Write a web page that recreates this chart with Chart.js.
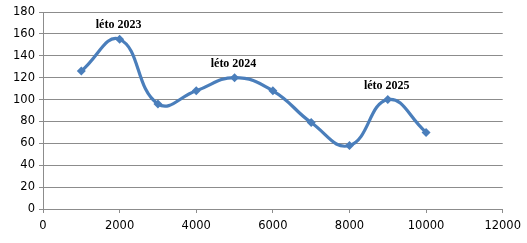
<!DOCTYPE html>
<html><head><meta charset="utf-8">
<script src="https://cdn.jsdelivr.net/npm/chart.js@4/dist/chart.umd.min.js"></script>
<style>html,body{margin:0;padding:0;background:#fff}#wrap{width:527px;height:243px}</style>
</head><body><div id="wrap"><canvas id="c" width="527" height="243"></canvas></div>
<script>
const xValues = [1000, 2000, 3000, 4000, 5000, 6000, 7000, 8000, 9000, 10000];
const yValues = [126, 155, 96, 108, 120, 108, 79, 58, 100, 70];
const annotationLabels = ["léto 2023", "léto 2024", "léto 2025"];
const annotationIndex = [1, 4, 8];

const annotate = {
  id: 'annotate',
  afterDatasetsDraw(chart) {
    const ctx = chart.ctx, xs = chart.scales.x, ys = chart.scales.y;
    ctx.save();
    ctx.font = 'bold 12px "Liberation Serif"';
    ctx.fillStyle = '#000';
    ctx.textAlign = 'center';
    ctx.textBaseline = 'bottom';
    annotationLabels.forEach((t, i) => {
      const k = annotationIndex[i];
      ctx.fillText(t, xs.getPixelForValue(xValues[k]) - 1, ys.getPixelForValue(yValues[k]) - 8);
    });
    ctx.restore();
  }
};

new Chart(document.getElementById('c'), {
  type: 'line',
  data: {
    datasets: [{
      data: xValues.map((x, i) => ({x, y: yValues[i]})),
      borderColor: '#4a7ebb',
      backgroundColor: '#4a7ebb',
      borderWidth: 3.2,
      tension: 0.45,
      pointStyle: 'rectRot',
      pointRadius: 4.5,
      pointBorderWidth: 0,
      fill: false
    }]
  },
  options: {
    responsive: false,
    animation: false,
    events: [],
    layout: {padding: {top: 12, right: 14, left: 0, bottom: 0}},
    plugins: {legend: {display: false}, tooltip: {enabled: false}},
    scales: {
      x: {
        type: 'linear', min: 0, max: 12000,
        ticks: {stepSize: 2000, color: '#000', font: {family: '"DejaVu Sans"', size: 11.5}, padding: 6, maxRotation: 0,
                callback: v => String(v)},
        grid: {display: true, drawOnChartArea: false, drawTicks: true, tickLength: 4, color: '#8c8c8c'},
        border: {display: true, color: '#8c8c8c', width: 1},
        afterFit(s) { s.height = 34; }
      },
      y: {
        min: 0, max: 180,
        ticks: {stepSize: 20, color: '#000', font: {family: '"DejaVu Sans"', size: 11.5}, padding: 4},
        grid: {display: true, drawTicks: true, tickLength: 4, color: '#8c8c8c'},
        border: {display: true, color: '#8c8c8c', width: 1},
        afterFit(s) { s.width = 43; }
      }
    }
  },
  plugins: [annotate]
});
</script></body></html>
